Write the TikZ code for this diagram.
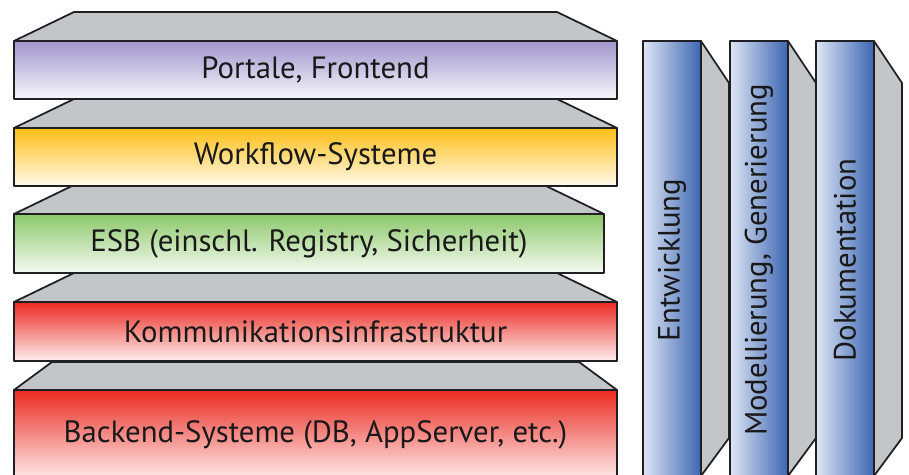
\documentclass[tikz,border=0pt]{standalone}
\usepackage{fontspec}
\setmainfont{PT Sans}
\definecolor{lidgray}{RGB}{195,198,200}
\definecolor{edgegray}{RGB}{32,32,36}
\definecolor{portalviolet}{RGB}{160,150,205}
\definecolor{flowyellow}{RGB}{255,190,20}
\definecolor{esbgreen}{RGB}{140,200,105}
\definecolor{commred}{RGB}{236,42,34}
\definecolor{barblue}{RGB}{60,102,178}
\definecolor{barlight}{RGB}{222,230,244}

\begin{document}
\begin{tikzpicture}[
  x=0.02cm, y=-0.02cm,
  every node/.style={font=\fontsize{17.5}{21}\selectfont, text=black!90},
  face/.style={draw=edgegray, line width=1pt, line join=round},
  lid/.style={face, fill=lidgray}
]
  \useasboundingbox (0,0) rectangle (909,475);

  % layers, drawn from the bottom up
  \foreach \ytop/\ybot/\xr/\dy/\dx/\col/\name/\txt in {
      390/480/617/28/38/commred/backend/{Backend-Systeme (DB, AppServer, etc.)},
      302/361/617/29/60/commred/komm/Kommunikationsinfrastruktur,
      214/273/604/29/60/esbgreen/esb/{ESB (einschl. Registry, Sicherheit)},
      128/186/617/29/60/flowyellow/flow/Workflow-Systeme,
      41/99/617/29/60/portalviolet/portal/{Portale, Frontend}} {
    \draw[lid] (14,\ytop) -- (14+\dx,\ytop-\dy) -- (\xr-\dx,\ytop-\dy) -- (\xr,\ytop) -- cycle;
    \draw[face, top color=\col, bottom color=\col!8!white] (14,\ytop) rectangle (\xr,\ybot);
    \node (\name) at ({(14+\xr)/2},{(\ytop+\ybot)/2}) {\txt};
  }

  % vertical columns
  \foreach \xl/\name/\txt in {643/entw/Entwicklung, 730/model/{Modellierung, Generierung},
      816/doku/Dokumentation} {
    \draw[lid] (\xl+58,41) -- (\xl+86,83) -- (\xl+86,438) -- (\xl+58,476) -- cycle;
    \draw[face, left color=barlight, right color=barblue] (\xl,41) rectangle (\xl+58,480);
    \node[rotate=90] (\name) at (\xl+29,260) {\txt};
  }
\end{tikzpicture}
\end{document}
